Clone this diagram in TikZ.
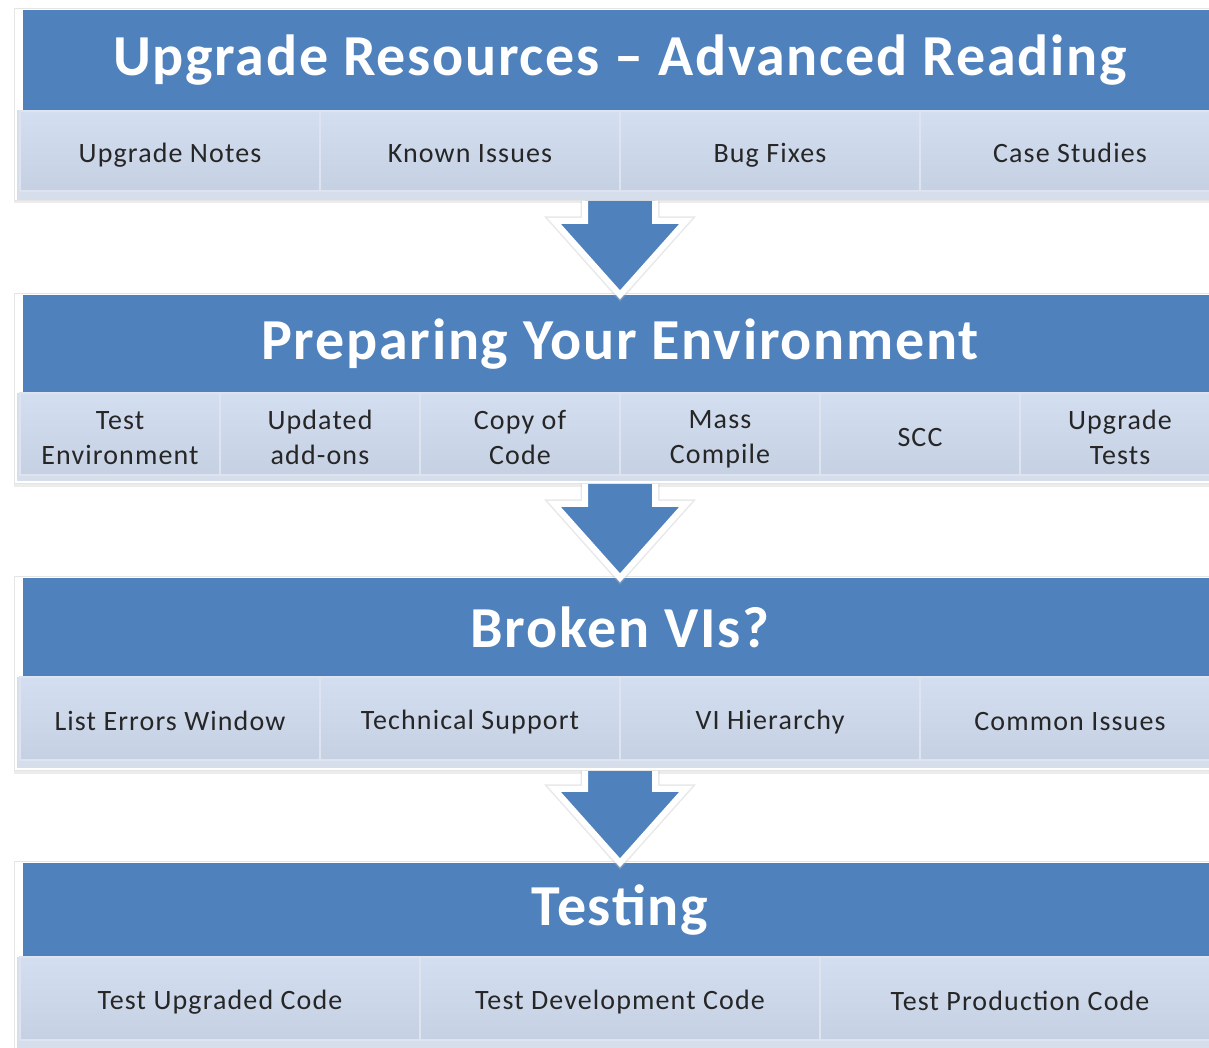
\documentclass[tikz,border=0pt]{standalone}
\usepackage{fontspec}
\setmainfont{Carlito}
\newfontfamily\titlefont[LetterSpace=3]{Carlito}
\newfontfamily\cellfont[LetterSpace=4]{Carlito}
\usetikzlibrary{calc,shadows}

\definecolor{hdrblue}{HTML}{4F81BD}
\definecolor{celltop}{HTML}{D3DEF0}
\definecolor{cellbot}{HTML}{C5D0E3}
\definecolor{cellline}{HTML}{DDE4EF}
\definecolor{bandblue}{HTML}{D6DEEB}
\definecolor{textdark}{HTML}{262626}

% struts for the first and last line of two-line cell labels
\newcommand\topstrut{\rule{0pt}{28pt}}
\newcommand\botstrut{\rule[-2pt]{0pt}{2pt}}

\tikzset{
  hdr/.style={fill=hdrblue, text=white, inner sep=0pt, minimum width=1194pt,
    font=\titlefont\fontsize{58}{60}\selectfont\bfseries},
  cell/.style={top color=celltop, bottom color=cellbot, draw=cellline, line width=1.2pt,
    text=textdark, inner sep=0pt, align=center, font=\cellfont\fontsize{28}{35}\selectfont,
    execute at begin node=\rule[-3pt]{0pt}{30pt}},
  celltwo/.style={cell, execute at begin node={}},
  frame/.style={fill=white, draw=black!10, line width=1pt, inner sep=0pt, anchor=north west,
    drop shadow={shadow xshift=-1pt, shadow yshift=-3pt, opacity=0.15}},
  band/.style={fill=bandblue, inner sep=0pt, anchor=north west},
  blockarrow/.style={fill=hdrblue},
  arrowrim/.style={draw=white, line width=6pt, line join=miter},
  arrowhalo/.style={draw=black!25, line width=9pt, line join=miter, opacity=0.35},
}

% block arrow from the bottom of frame #1 down to the top of header #2
\newcommand\flowarrow[2]{%
  \coordinate (T) at (#2.north);
  \coordinate (S) at (#2.north |- #1.south);
  \draw[arrowhalo, shift={(-1,2)}]
    ($(S)+(-35,0)$) -- ($(T)+(-35,-74)$) -- ($(T)+(-66,-74)$) -- (T)
    -- ($(T)+(66,-74)$) -- ($(T)+(35,-74)$) -- ($(S)+(35,0)$);
  \fill[blockarrow]
    ($(S)+(-35,0)$) -- ($(T)+(-35,-74)$) -- ($(T)+(-66,-74)$) -- (T)
    -- ($(T)+(66,-74)$) -- ($(T)+(35,-74)$) -- ($(S)+(35,0)$) -- cycle;
  \draw[arrowrim]
    ($(S)+(-35,0)$) -- ($(T)+(-35,-74)$) -- ($(T)+(-66,-74)$) -- (T)
    -- ($(T)+(66,-74)$) -- ($(T)+(35,-74)$) -- ($(S)+(35,0)$);
}

\begin{document}
\begin{tikzpicture}[x=1pt, y=-1pt]
  \useasboundingbox (0,0) rectangle (1209,1048);
  \clip (0,0) rectangle (1209,1048);
  \fill[white] (0,0) rectangle (1209,1048);

  % --- Upgrade resources ---
  \node[frame, minimum width=1216pt, minimum height=192pt] (f1) at (14,8) {};
  \node[band, minimum width=1212pt, minimum height=90pt] (b1) at (17,110) {};
  \node[hdr, minimum height=100pt] (h1) at (620,60) {Upgrade Resources – Advanced Reading};
  \foreach \n/\cx/\txt in {a/170/Upgrade Notes, b/470/Known Issues, c/770/Bug Fixes, d/1070/Case Studies}
    \node[cell, minimum width=300pt, minimum height=80pt] (c1\n) at (\cx,151) {\txt};

  % --- Preparing the environment ---
  \node[frame, minimum width=1216pt, minimum height=190pt] (f2) at (14,293) {};
  \node[band, minimum width=1212pt, minimum height=88pt] (b2) at (17,393) {};
  \node[hdr, minimum height=98pt] (h2) at (620,344) {Preparing Your Environment};
  \foreach \n/\cx/\a/\b in {a/120/Test/Environment, b/320/Updated/add-ons,
      c/520/Copy of/Code, d/720/Mass/Compile, f/1120/Upgrade/Tests}
    \node[celltwo, minimum width=200pt, minimum height=82pt] (c2\n) at (\cx,434)
      {\topstrut\a\\\b\botstrut};
  \node[cell, minimum width=200pt, minimum height=82pt] (c2e) at (920,434) {SCC};

  % --- Broken VIs ---
  \node[frame, minimum width=1216pt, minimum height=194pt] (f3) at (14,576) {};
  \node[band, minimum width=1212pt, minimum height=91pt] (b3) at (17,677) {};
  \node[hdr, minimum height=99pt] (h3) at (620,627.5) {Broken VIs?};
  \foreach \n/\cx/\txt in {a/170/List Errors Window, b/470/Technical Support, c/770/VI Hierarchy, d/1070/Common Issues}
    \node[cell, minimum width=300pt, minimum height=83pt] (c3\n) at (\cx,718.5) {\txt};

  % --- Testing ---
  \node[frame, minimum width=1216pt, minimum height=190pt] (f4) at (14,861) {};
  \node[band, minimum width=1212pt, minimum height=94pt] (b4) at (17,957) {};
  \node[hdr, minimum height=94pt] (h4) at (620,910) {Testing};
  \foreach \n/\cx/\txt in {a/220/Test Upgraded Code, b/620/Test Development Code, c/1020/Test Production Code}
    \node[cell, minimum width=400pt, minimum height=83pt] (c4\n) at (\cx,998.5) {\txt};

  % --- flow arrows between the stages ---
  \flowarrow{f1}{h2}
  \flowarrow{f2}{h3}
  \flowarrow{f3}{h4}
\end{tikzpicture}
\end{document}
